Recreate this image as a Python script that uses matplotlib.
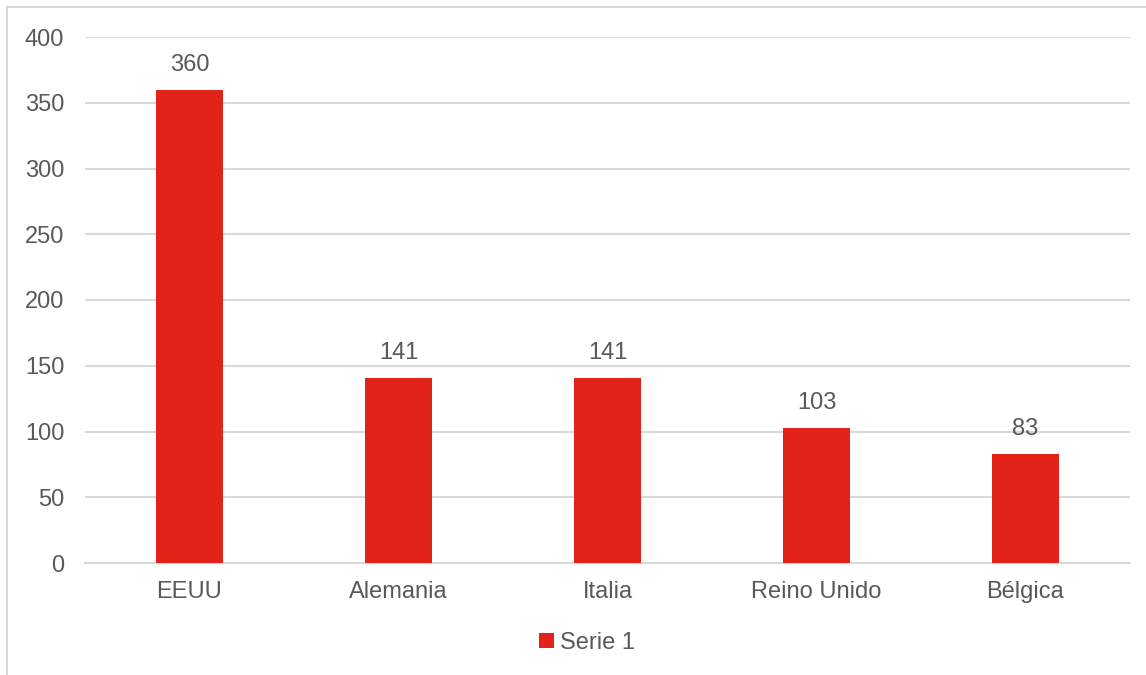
import matplotlib.pyplot as plt
from matplotlib.patches import Rectangle

paises = ['EEUU', 'Alemania', 'Italia', 'Reino Unido', 'Bélgica']
valores = [360, 141, 141, 103, 83]
serie = 'Serie 1'

rojo = '#E3231A'
gris = '#595959'

plt.rcParams['font.family'] = ['Liberation Sans', 'DejaVu Sans']

fig = plt.figure(figsize=(11.46, 6.75), dpi=100)
ax = fig.add_axes([85 / 1146, 1 - 563 / 675, 1045 / 1146, 526 / 675])

# marco del grafico (cortado a la derecha y abajo)
fig.patches.append(Rectangle((7 / 1146, -0.05), 1.1, 1 - 7 / 675 + 0.05,
                             transform=fig.transFigure, fill=False,
                             edgecolor='#D9D9D9', linewidth=1.5))

barras = ax.bar(range(len(paises)), valores, width=0.316, color=rojo, label=serie, zorder=3)
for b, v in zip(barras, valores):
    ax.annotate(str(v), (b.get_x() + b.get_width() / 2, v), xytext=(0, 10),
                textcoords='offset points', ha='center', va='bottom',
                fontsize=17, color=gris)

ax.set_xlim(-0.5, len(paises) - 0.5)
ax.set_ylim(0, 400)
ax.set_yticks(range(0, 401, 50))
ax.set_xticks(range(len(paises)))
ax.set_xticklabels(paises)
ax.grid(axis='y', color='#D9D9D9', linewidth=1.5, zorder=0)
ax.set_axisbelow(True)
for s in ['top', 'right', 'left']:
    ax.spines[s].set_visible(False)
ax.spines['bottom'].set_color('#D9D9D9')
ax.spines['bottom'].set_linewidth(1.5)
ax.tick_params(axis='both', length=0, labelsize=17, colors=gris)
ax.tick_params(axis='x', pad=13)
ax.tick_params(axis='y', pad=15)

ax.legend(loc='center', bbox_to_anchor=(587 / 1146, 1 - 643 / 675), bbox_transform=fig.transFigure,
          frameon=False, fontsize=17, labelcolor=gris, handlelength=0.6, handleheight=0.6,
          handletextpad=0.25)

plt.savefig('out.png', dpi=100)
